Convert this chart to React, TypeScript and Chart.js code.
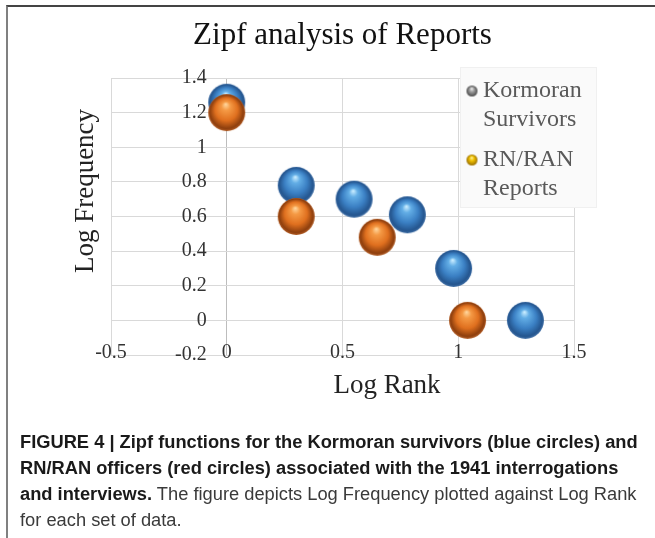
import React, { useEffect, useRef } from 'react';
import { Chart, registerables } from 'chart.js';

Chart.register(...registerables);

const chartTitle = 'Zipf analysis of Reports';
const xAxisTitle = 'Log Rank';
const yAxisTitle = 'Log Frequency';
const seriesNames = ['Kormoran Survivors', 'RN/RAN Reports'];
const legendLines = [['Kormoran', 'Survivors'], ['RN/RAN', 'Reports']];

const survivorsLogRank = [0, 0.30, 0.55, 0.78, 0.98, 1.29];
const survivorsLogFreq = [1.26, 0.78, 0.70, 0.61, 0.30, 0];
const reportsLogRank = [0, 0.30, 0.65, 1.04];
const reportsLogFreq = [1.20, 0.60, 0.48, 0];

const xTickValues = [-0.5, 0, 0.5, 1, 1.5];
const yTickValues = [-0.2, 0, 0.2, 0.4, 0.6, 0.8, 1, 1.2, 1.4];

const captionLine1 = 'FIGURE 4 | Zipf functions for the Kormoran survivors (blue circles) and';
const captionLine2 = 'RN/RAN officers (red circles) associated with the 1941 interrogations';
const captionLine3Bold = 'and interviews.';
const captionLine3 = ' The figure depicts Log Frequency plotted against Log Rank';
const captionLine4 = 'for each set of data.';

const SERIF = '"Liberation Serif", "Times New Roman", serif';

function makeSphere(r: number, stops: [number, string][]) {
  const c = document.createElement('canvas');
  const size = Math.ceil(r * 2 + 2);
  c.width = size;
  c.height = size;
  const ctx = c.getContext('2d')!;
  const cx = size / 2;
  const cy = size / 2;
  const g = ctx.createRadialGradient(cx - r * 0.05, cy - r * 0.45, r * 0.02, cx, cy, r);
  stops.forEach(([o, col]) => g.addColorStop(o, col));
  ctx.fillStyle = g;
  ctx.beginPath();
  ctx.arc(cx, cy, r, 0, Math.PI * 2);
  ctx.fill();
  return c;
}

// Places the tick-label boxes: y labels just left of the x = 0 axis line,
// x labels straddling the bottom gridline (as in the original figure).
const axisPlacementPlugin = {
  id: 'axisPlacement',
  afterLayout(chart: any) {
    const xs = chart.scales.x;
    const ys = chart.scales.y;
    const a = chart.chartArea;
    xs.top = a.bottom - 14;
    xs.bottom = xs.top + 32;
    const x0 = xs.getPixelForValue(0);
    ys.right = x0 - 20;
    ys.left = x0 - 110;
  },
};

const axisTitlePlugin = {
  id: 'axisTitles',
  afterDraw(chart: any) {
    const { ctx, chartArea: a } = chart;
    ctx.save();
    ctx.fillStyle = '#222';
    ctx.font = `27px ${SERIF}`;
    ctx.textAlign = 'center';
    ctx.textBaseline = 'alphabetic';
    ctx.fillText(xAxisTitle, a.left + 276, a.bottom + 38);
    ctx.translate(a.left - 18, a.top + 113);
    ctx.rotate(-Math.PI / 2);
    ctx.fillText(yAxisTitle, 0, 0);
    ctx.restore();
  },
};

const legendPlugin = {
  id: 'sphereLegend',
  afterDraw(chart: any) {
    const { ctx, chartArea: a } = chart;
    const bx = a.right - 114;
    const by = a.top - 11;
    const bw = 137;
    const bh = 141;
    ctx.save();
    ctx.fillStyle = '#fafafa';
    ctx.fillRect(bx, by, bw, bh);
    ctx.strokeStyle = '#f0f0f0';
    ctx.lineWidth = 1;
    ctx.strokeRect(bx + 0.5, by + 0.5, bw - 1, bh - 1);
    const markers = [
      makeSphere(5.5, [[0, '#f4f4f4'], [0.4, '#a0a0a0'], [1, '#4a4a4a']]),
      makeSphere(5.5, [[0, '#fff6b0'], [0.4, '#f2c200'], [1, '#9a7000']]),
    ];
    ctx.font = `24px ${SERIF}`;
    ctx.fillStyle = '#595959';
    ctx.textAlign = 'left';
    ctx.textBaseline = 'alphabetic';
    legendLines.forEach((lines, i) => {
      const top = by + i * 69;
      const m = markers[i];
      ctx.drawImage(m, bx + 12 - m.width / 2, top + 24 - m.height / 2);
      lines.forEach((t, j) => ctx.fillText(t, bx + 23, top + 30 + j * 29));
    });
    ctx.restore();
  },
};

export default function App() {
  const canvasRef = useRef<HTMLCanvasElement | null>(null);

  useEffect(() => {
    if (!canvasRef.current) return;
    const blueSphere = makeSphere(18.5, [
      [0, '#c8ecff'],
      [0.22, '#63aee6'],
      [0.6, '#3b80c4'],
      [0.9, '#25568f'],
      [1, '#3a6aa2'],
    ]);
    const orangeSphere = makeSphere(18.5, [
      [0, '#ffd49a'],
      [0.22, '#f59a45'],
      [0.6, '#e0701f'],
      [0.9, '#8e3f0e'],
      [1, '#b05a22'],
    ]);
    const tickFont = { family: SERIF, size: 20 };
    const chart = new Chart(canvasRef.current, {
      type: 'scatter',
      data: {
        datasets: [
          {
            label: seriesNames[0],
            data: survivorsLogRank.map((x, i) => ({ x, y: survivorsLogFreq[i] })),
            pointStyle: blueSphere as any,
            pointRadius: 18,
            backgroundColor: '#3b80c4',
            order: 1,
          },
          {
            label: seriesNames[1],
            data: reportsLogRank.map((x, i) => ({ x, y: reportsLogFreq[i] })),
            pointStyle: orangeSphere as any,
            pointRadius: 18,
            backgroundColor: '#e0701f',
            order: 0,
          },
        ],
      },
      options: {
        responsive: false,
        animation: false,
        layout: { padding: { left: 111, right: 81, top: 0, bottom: 35 } },
        plugins: {
          legend: { display: false },
          tooltip: { enabled: false },
          title: {
            display: true,
            text: chartTitle,
            fullSize: false,
            color: '#111',
            font: { family: SERIF, size: 31, weight: 'normal' },
            padding: { top: 17, bottom: 23.8 },
          },
        },
        scales: {
          x: {
            type: 'linear',
            position: 'bottom',
            min: -0.5,
            max: 1.5,
            afterBuildTicks: (s: any) => {
              s.ticks = xTickValues.map((v) => ({ value: v }));
            },
            afterFit: (s: any) => {
              s.height = 20;
            },
            ticks: {
              callback: (v: any) => String(v),
              font: tickFont,
              color: '#333',
              padding: 0,
              maxRotation: 0,
              autoSkip: false,
            },
            grid: {
              color: (c: any) => (c.tick && c.tick.value === 0 ? '#bdbdbd' : '#d9d9d9'),
              drawTicks: false,
            },
            border: { display: false },
          },
          y: {
            type: 'linear',
            position: 'left',
            min: -0.2,
            max: 1.4,
            afterBuildTicks: (s: any) => {
              s.ticks = yTickValues.map((v) => ({ value: v }));
            },
            afterFit: (s: any) => {
              s.width = 0;
            },
            ticks: {
              callback: (v: any) => String(v),
              font: tickFont,
              color: '#333',
              padding: 0,
              autoSkip: false,
            },
            grid: { color: '#d9d9d9', drawTicks: false },
            border: { display: false },
          },
        },
      } as any,
      plugins: [axisPlacementPlugin, axisTitlePlugin, legendPlugin],
    });
    return () => chart.destroy();
  }, []);

  return (
    <div
      style={{
        position: 'fixed',
        left: 0,
        top: 0,
        width: 655,
        height: 538,
        overflow: 'hidden',
        background: '#fff',
      }}
    >
      <canvas
        ref={canvasRef}
        width={655}
        height={410}
        style={{ position: 'absolute', left: 0, top: 0, width: 655, height: 410 }}
      />
      <div
        style={{
          position: 'absolute',
          left: 6,
          top: 5,
          width: 700,
          height: 600,
          borderTop: '2px solid #444',
          borderLeft: '2px solid #808080',
          pointerEvents: 'none',
        }}
      />
      <div
        style={{
          position: 'absolute',
          left: 20,
          top: 429,
          fontFamily: '"Liberation Sans", Arial, Helvetica, sans-serif',
          fontSize: 18.3,
          lineHeight: '26px',
          color: '#1a1a1a',
          whiteSpace: 'nowrap',
        }}
      >
        <b>{captionLine1}</b>
        <br />
        <b>{captionLine2}</b>
        <br />
        <b>{captionLine3Bold}</b>
        <span style={{ color: '#3a3a3a' }}>{captionLine3}</span>
        <br />
        <span style={{ color: '#3a3a3a' }}>{captionLine4}</span>
      </div>
    </div>
  );
}
